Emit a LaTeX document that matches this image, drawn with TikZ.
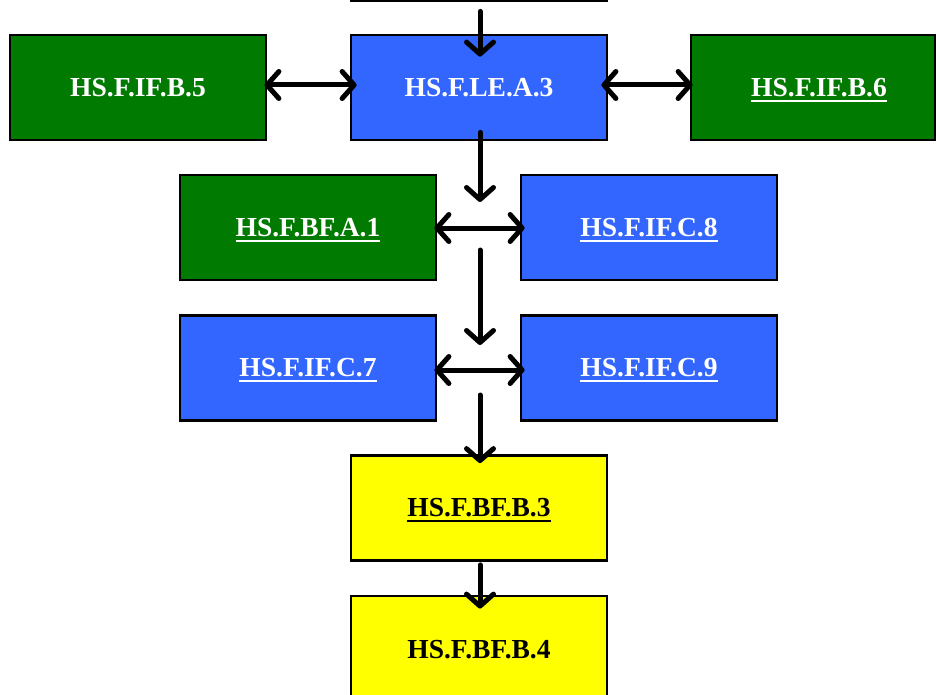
\documentclass[tikz,border=0pt]{standalone}
\usepackage{fontspec}
\setmainfont{Liberation Serif}
\usetikzlibrary{arrows.meta,calc}
\definecolor{stdgreen}{RGB}{0,122,0}
\definecolor{stdblue}{RGB}{51,102,255}
\definecolor{stdyellow}{RGB}{255,255,0}
% underlined (linked) standard code
\newcommand\linkul[1]{\setbox0\hbox{#1}\rlap{\smash{\rule[-5.5pt]{\wd0}{2.4pt}}}\box0}
\begin{document}
\begin{tikzpicture}[x=1pt,y=-1pt,
  stdfont/.style={font=\fontsize{27.5}{32}\selectfont\bfseries},
  stdbox/.style={draw=black,line width=2.8pt,minimum width=256pt,minimum height=105pt,
    inner sep=0pt,stdfont},
  grn/.style={stdbox,fill=stdgreen,text=white},
  blu/.style={stdbox,fill=stdblue,text=white},
  ylw/.style={stdbox,fill=stdyellow,text=black},
  barb/.tip={Straight Barb[length=12pt,width=27pt,line cap=round,line join=round]},
  link/.style={-barb,line width=5pt,line cap=round},
  both/.style={barb-barb,line width=5pt,line cap=round}]
\useasboundingbox (0,0) rectangle (936,695);
\clip (0,0) rectangle (936,695);

% boxes
\node[stdbox,fill=white] (top) at (479,-51.5) {};
\node[blu] (le) at (479,87.5) {HS.F.LE.A.3};
\node[grn] (b5) at (138,87.5) {HS.F.IF.B.5};
\node[grn,minimum width=244pt] (b6) at (813,87.5) {};
\node[text=white,stdfont,inner sep=0pt] (b6t) at (819,87.5) {\linkul{HS.F.IF.B.6}};
\node[grn] (a1) at (308,227.5) {\linkul{HS.F.BF.A.1}};
\node[blu] (c8) at (649,227.5) {\linkul{HS.F.IF.C.8}};
\node[blu] (c7) at (308,368) {\linkul{HS.F.IF.C.7}};
\node[blu] (c9) at (649,368) {\linkul{HS.F.IF.C.9}};
\node[ylw] (b3) at (479,508) {\linkul{HS.F.BF.B.3}};
\node[ylw,minimum height=108pt] (b4) at (479,650) {HS.F.BF.B.4};

% free ends of the vertical connectors
\coordinate (j1) at (480,202);
\coordinate (j2) at (480,250);
\coordinate (j3) at (480,345);
\coordinate (j4) at (480,395);

% connectors
\draw[link] ($(top.south)+(1,9)$) -- ($(le.north)+(1,23)$);
\draw[both] ($(b5.east)+(-3,-2.5)$) -- ($(le.west)+(7,-2.5)$);
\draw[both] ($(le.east)+(-7,-2.5)$) -- ($(b6.west)+(3,-2.5)$);
\draw[link] ($(le.south)+(1,-9)$) -- (j1);
\draw[both] ($(a1.east)+(-3,0.5)$) -- ($(c8.west)+(5,0.5)$);
\draw[link] (j2) -- (j3);
\draw[both] ($(c7.east)+(-3,2)$) -- ($(c9.west)+(5,2)$);
\draw[link] (j4) -- ($(b3.north)+(1,9)$);
\draw[link] ($(b3.south)+(1,3)$) -- ($(b4.north)+(1,14)$);
\end{tikzpicture}
\end{document}
